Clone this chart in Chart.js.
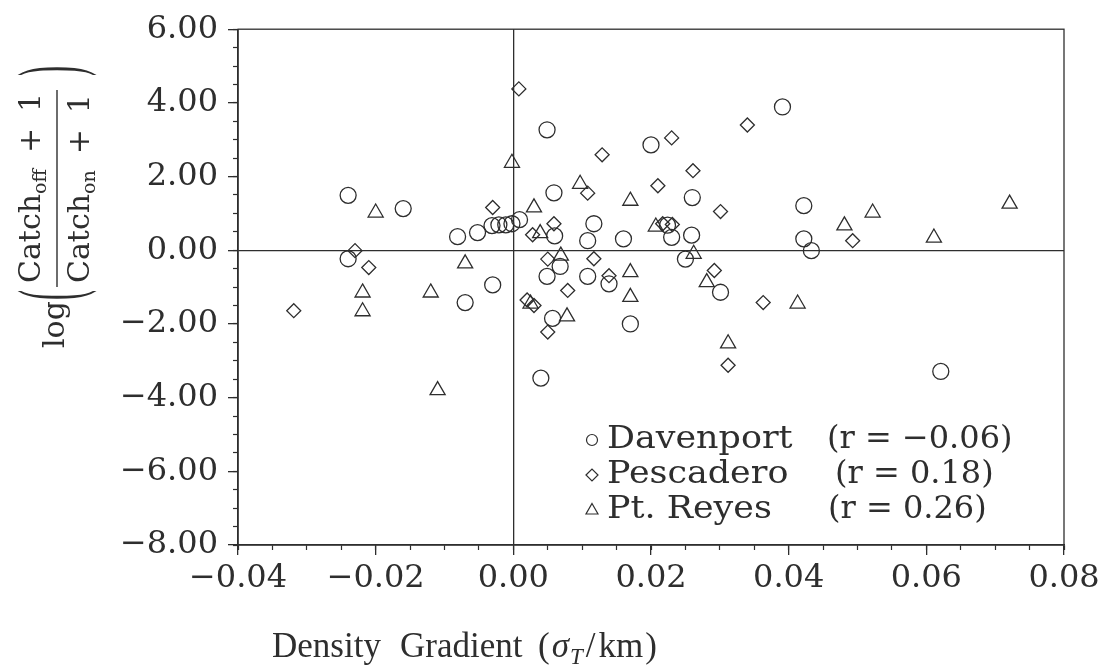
<!DOCTYPE html>
<html>
<head>
<meta charset="utf-8">
<title>Catch ratio vs density gradient</title>
<script src="https://cdn.jsdelivr.net/npm/chart.js@4.4.1/dist/chart.umd.min.js"></script>
<style>
  html, body { margin: 0; padding: 0; background: #fff; }
  #wrap { width: 1107px; height: 670px; }
</style>
</head>
<body>
<div id="wrap"><canvas id="chart" width="1107" height="670"></canvas></div>
<script>
(function () {
  "use strict";

  // --- data ---
  const davenportX = [-0.024, -0.016, -0.0081, -0.0052, -0.0031, -0.0021, -0.0011, -0.0002, 0.0009,
    -0.024, -0.003, -0.007, 0.0049, 0.020, 0.0391, 0.0059, 0.026, 0.0117, 0.006, 0.0108, 0.016,
    0.0224, 0.023, 0.0259, 0.025, 0.0068, 0.0049, 0.0108, 0.0139, 0.0301, 0.0057, 0.017, 0.004,
    0.0422, 0.0422, 0.0433, 0.0621];
  const davenportY = [1.49, 1.13, 0.37, 0.48, 0.67, 0.69, 0.69, 0.72, 0.83,
    -0.23, -0.94, -1.42, 3.27, 2.86, 3.89, 1.56, 1.43, 0.72, 0.39, 0.26, 0.31,
    0.68, 0.35, 0.41, -0.24, -0.44, -0.71, -0.71, -0.91, -1.14, -1.85, -2.0, -3.47,
    1.21, 0.31, -0.01, -3.29];

  const pescaderoX = [0.0008, 0.023, 0.034, 0.0129, 0.0261, 0.021, 0.0108, 0.0301, -0.003, 0.0059,
    0.0028, -0.023, -0.021, -0.0319, 0.005, 0.0117, 0.0079, 0.002, 0.003, 0.005, 0.0139, 0.0292,
    0.0363, 0.0312, 0.0493, 0.0217, 0.0231];
  const pescaderoY = [4.38, 3.05, 3.40, 2.59, 2.16, 1.75, 1.55, 1.05, 1.16, 0.72,
    0.42, -0.01, -0.47, -1.64, -0.24, -0.23, -1.09, -1.35, -1.5, -2.22, -0.69, -0.55,
    -1.42, -3.12, 0.26, 0.72, 0.70];

  const reyesX = [-0.0002, -0.020, 0.003, 0.0097, 0.017, 0.0039, 0.0207, -0.007, -0.0219, -0.012,
    -0.0219, -0.011, 0.0069, 0.0025, 0.0078, 0.017, 0.017, 0.0262, 0.0281, 0.0312, 0.0413,
    0.0481, 0.0522, 0.0611, 0.0721];
  const reyesY = [2.37, 1.02, 1.16, 1.80, 1.34, 0.46, 0.64, -0.36, -1.15, -1.15,
    -1.66, -3.80, -0.15, -1.45, -1.80, -0.60, -1.27, -0.10, -0.87, -2.53, -1.45,
    0.67, 1.02, 0.34, 1.26];

  const seriesNames = ["Davenport", "Pescadero", "Pt. Reyes"];
  const seriesR = ["(r = \u22120.06)", "(r = 0.18)", "(r = 0.26)"];

  const xTickValues = [-0.04, -0.02, 0, 0.02, 0.04, 0.06, 0.08];
  const yTickValues = [-8, -6, -4, -2, 0, 2, 4, 6];

  const INK = "#2e2e2e";
  const SERIF = '"DejaVu Serif", serif';
  const TITLE_SERIF = '"Liberation Serif", serif';

  function pairs(xs, ys) {
    return xs.map((x, i) => ({ x: x, y: ys[i] }));
  }

  function fmtTick(v) {
    if (Math.abs(v) < 1e-9) return "0.00";
    return v.toFixed(2).replace("-", "\u2212");
  }

  function zeroLine(ctx) {
    return ctx.tick && Math.abs(ctx.tick.value) < 1e-9 ? INK : "rgba(0,0,0,0)";
  }

  // ---- decorations: frame, axis titles, legend ----
  function rot(ctx, text, sy, sx, font) {
    ctx.font = font;
    ctx.fillText(text, -sy, sx);
    return ctx.measureText(text).width;
  }

  function drawYTitle(ctx) {
    const f = "30px " + SERIF;
    const fs = "19px " + SERIF;
    ctx.save();
    ctx.fillStyle = INK;
    ctx.textAlign = "left";
    ctx.textBaseline = "alphabetic";
    ctx.rotate(-Math.PI / 2);

    rot(ctx, "log", 348, 64, f);

    // big parentheses, stretched across the fraction
    [["(", 300], [")", 76]].forEach(([p, sy]) => {
      ctx.save();
      ctx.translate(-sy, 55);
      ctx.scale(1, 2.9);
      ctx.font = "30px " + TITLE_SERIF;
      ctx.textBaseline = "middle";
      ctx.fillText(p, 0, 0);
      ctx.restore();
    });

    // numerator
    let y = 283;
    y -= rot(ctx, "Catch", y, 40, f);
    y -= rot(ctx, "off", y, 46, fs);
    y -= 16;
    y -= rot(ctx, "+", y, 40, f);
    y -= 16;
    rot(ctx, "1", y, 40, f);

    // denominator
    y = 283;
    y -= rot(ctx, "Catch", y, 89, f);
    y -= rot(ctx, "on", y, 95, fs);
    y -= 16;
    y -= rot(ctx, "+", y, 89, f);
    y -= 16;
    rot(ctx, "1", y, 89, f);
    ctx.restore();

    ctx.save();
    ctx.strokeStyle = INK;
    ctx.lineWidth = 1.4;
    ctx.beginPath();
    ctx.moveTo(57, 287);
    ctx.lineTo(57, 90);
    ctx.stroke();
    ctx.restore();
  }

  function drawXTitle(ctx) {
    ctx.save();
    ctx.fillStyle = INK;
    ctx.textBaseline = "alphabetic";
    ctx.textAlign = "left";
    const base = 657;
    ctx.font = "35px " + TITLE_SERIF;
    ctx.fillText("Density", 272, base);
    ctx.fillText("Gradient", 400, base);
    let x = 538;
    ctx.fillText("(", x, base);
    x += ctx.measureText("(").width + 2;
    ctx.font = "italic 35px " + TITLE_SERIF;
    ctx.fillText("\u03c3", x, base);
    x += ctx.measureText("\u03c3").width + 1;
    ctx.font = "italic 23px " + TITLE_SERIF;
    ctx.fillText("T", x, base + 7);
    x += ctx.measureText("T").width + 3;
    ctx.font = "35px " + TITLE_SERIF;
    ctx.fillText("/", x, base);
    x += ctx.measureText("/").width + 3;
    ctx.fillText("km", x, base);
    x += ctx.measureText("km").width + 2;
    ctx.fillText(")", x, base);
    ctx.restore();
  }

  function legendMark(ctx, style, x, y) {
    ctx.beginPath();
    if (style === "circle") {
      ctx.arc(x, y, 5.5, 0, Math.PI * 2);
    } else if (style === "rectRot") {
      ctx.moveTo(x - 6, y); ctx.lineTo(x, y - 6); ctx.lineTo(x + 6, y); ctx.lineTo(x, y + 6);
      ctx.closePath();
    } else {
      ctx.moveTo(x, y - 6.5); ctx.lineTo(x + 6, y + 4); ctx.lineTo(x - 6, y + 4);
      ctx.closePath();
    }
    ctx.stroke();
  }

  function drawLegend(ctx) {
    const styles = ["circle", "rectRot", "triangle"];
    const rows = [440, 475, 510];
    const rX = [827, 835, 828];
    ctx.save();
    ctx.fillStyle = INK;
    ctx.strokeStyle = INK;
    ctx.lineWidth = 1.2;
    ctx.textBaseline = "middle";
    ctx.textAlign = "left";
    seriesNames.forEach((name, i) => {
      legendMark(ctx, styles[i], 592, rows[i]);
      ctx.save();
      ctx.translate(607, rows[i]);
      ctx.scale(1.09, 1);
      ctx.font = "32px " + SERIF;
      ctx.fillText(name, 0, 0);
      ctx.restore();
      ctx.font = "32px " + SERIF;
      ctx.fillText(seriesR[i], rX[i], rows[i]);
    });
    ctx.restore();
  }

  const decorations = {
    id: "decorations",
    afterDraw(chart) {
      const ctx = chart.ctx;
      const a = chart.chartArea;
      ctx.save();
      ctx.strokeStyle = INK;
      ctx.lineWidth = 1.3;
      ctx.strokeRect(a.left, a.top, a.right - a.left, a.bottom - a.top);
      ctx.restore();
      drawYTitle(ctx);
      drawXTitle(ctx);
      drawLegend(ctx);
    },
  };

  const pointBase = {
    showLine: false,
    backgroundColor: "rgba(0,0,0,0)",
    borderColor: INK,
    borderWidth: 1.3,
    pointHoverRadius: 8,
    xAxisID: "x",
    yAxisID: "y",
  };

  const tickFont = { family: SERIF, size: 32 };

  new Chart(document.getElementById("chart"), {
    type: "scatter",
    data: {
      datasets: [
        Object.assign({}, pointBase, { label: seriesNames[0], data: pairs(davenportX, davenportY), pointStyle: "circle", pointRadius: 8 }),
        Object.assign({}, pointBase, { label: seriesNames[1], data: pairs(pescaderoX, pescaderoY), pointStyle: "rectRot", pointRadius: 7 }),
        Object.assign({}, pointBase, { label: seriesNames[2], data: pairs(reyesX, reyesY), pointStyle: "triangle", pointRadius: 8.7 }),
      ],
    },
    options: {
      responsive: false,
      animation: false,
      events: [],
      layout: { padding: { left: 0, top: 28, right: 43, bottom: 0 } },
      plugins: { legend: { display: false }, tooltip: { enabled: false } },
      scales: {
        x: {
          type: "linear", position: "bottom", min: -0.04, max: 0.08, weight: 1,
          afterBuildTicks(s) { s.ticks = xTickValues.map((v) => ({ value: v })); },
          afterFit(s) { s.height = 125; },
          ticks: { callback: fmtTick, font: tickFont, color: INK, padding: 4, maxRotation: 0, autoSkip: false },
          grid: { color: zeroLine, lineWidth: 1.3, tickColor: INK, tickLength: 10, tickWidth: 1.3 },
          border: { color: INK, width: 1.3 },
        },
        xMinor: {
          type: "linear", position: "bottom", min: -0.04, max: 0.08, weight: 0,
          afterFit(s) { s.height = 0; },
          ticks: { stepSize: 0.005, display: false },
          grid: { drawOnChartArea: false, tickColor: INK, tickLength: 5, tickWidth: 1.2 },
          border: { color: INK, width: 1.3 },
        },
        y: {
          type: "linear", position: "left", min: -8, max: 6, weight: 1,
          afterBuildTicks(s) { s.ticks = yTickValues.map((v) => ({ value: v })); },
          afterFit(s) { s.width = 238; },
          ticks: { callback: fmtTick, font: tickFont, color: INK, padding: 10, autoSkip: false },
          grid: { color: zeroLine, lineWidth: 1.3, tickColor: INK, tickLength: 10, tickWidth: 1.3 },
          border: { color: INK, width: 1.3 },
        },
        yMinor: {
          type: "linear", position: "left", min: -8, max: 6, weight: 0,
          afterFit(s) { s.width = 0; },
          ticks: { stepSize: 0.5, display: false },
          grid: { drawOnChartArea: false, tickColor: INK, tickLength: 5, tickWidth: 1.2 },
          border: { color: INK, width: 1.3 },
        },
      },
    },
    plugins: [decorations],
  });
})();
</script>
</body>
</html>
